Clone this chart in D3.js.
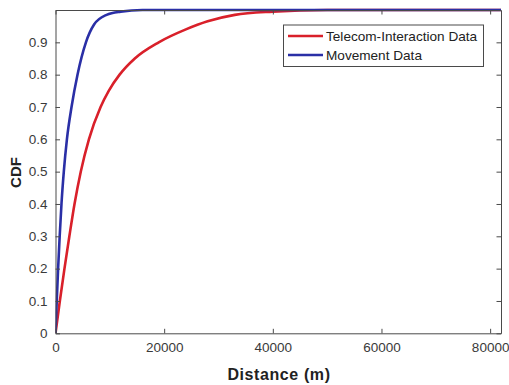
<!DOCTYPE html>
<html>
<head>
<meta charset="utf-8">
<script src="https://cdn.jsdelivr.net/npm/d3@7"></script>
<style>
  html, body { margin: 0; padding: 0; background: #fff; }
  svg { display: block; font-family: "Liberation Sans", Arial, Helvetica, sans-serif; }
</style>
</head>
<body>
<svg id="chart" width="509" height="385"></svg>
<script>
// Empirical CDFs of distance (m)
const telecomDist = [0, 800, 1650, 2550, 3500, 4650, 6150, 8300, 9800, 11800, 14600, 19000, 24000, 28000, 33000, 40000, 50000, 82000];
const telecomCdf  = [0, 0.10, 0.20, 0.30, 0.40, 0.50, 0.60, 0.70, 0.75, 0.80, 0.85, 0.90, 0.94, 0.965, 0.985, 0.995, 1.0, 1.0];
const movementDist = [0, 230, 480, 770, 1100, 1530, 2100, 2950, 4050, 5600, 7100, 9400, 12000, 16000, 82000];
const movementCdf  = [0, 0.10, 0.20, 0.30, 0.40, 0.50, 0.60, 0.70, 0.80, 0.90, 0.955, 0.985, 0.995, 1.0, 1.0];

const xTicks = [0, 20000, 40000, 60000, 80000];
const yTicks = [0, 0.1, 0.2, 0.3, 0.4, 0.5, 0.6, 0.7, 0.8, 0.9];

const seriesNames = ["Telecom-Interaction Data", "Movement Data"];
const seriesColors = ["#d9202a", "#2a2fa6"];

const plotLeft = 55.5, plotRight = 501, plotTop = 10, plotBottom = 333.3;
const svg = d3.select("#chart");

const x = d3.scaleLinear().domain([0, 82000]).range([plotLeft, plotRight]);
const y = d3.scaleLinear().domain([0, 1]).range([plotBottom, plotTop]);

const axisColor = "#4a4a4a";
const labelColor = "#3a3a3a";
const tickLen = 4.5;

// curves
const line = d3.line().curve(d3.curveMonotoneX).x(d => x(d[0])).y(d => y(d[1]));
const series = [
  d3.zip(telecomDist, telecomCdf),
  d3.zip(movementDist, movementCdf)
];
const g = svg.append("g");
g.append("clipPath").attr("id", "clip").append("rect")
  .attr("x", plotLeft).attr("y", plotTop - 2)
  .attr("width", plotRight - plotLeft).attr("height", plotBottom - plotTop + 2);
series.forEach((s, i) => {
  g.append("path").datum(s)
    .attr("d", line)
    .attr("fill", "none")
    .attr("stroke", seriesColors[i])
    .attr("stroke-width", 2.6)
    .attr("stroke-linejoin", "round")
    .attr("clip-path", "url(#clip)");
});

// axes (ticks point inward, mirrored on top and right)
const xAxisB = d3.axisBottom(x).tickValues(xTicks).tickSizeInner(-tickLen).tickSizeOuter(0).tickPadding(9).tickFormat(d3.format("d"));
const xAxisT = d3.axisTop(x).tickValues(xTicks).tickSizeInner(-tickLen).tickSizeOuter(0).tickFormat("");
const yAxisL = d3.axisLeft(y).tickValues(yTicks).tickSizeInner(-tickLen).tickSizeOuter(0).tickPadding(8).tickFormat(d => d === 0 ? "0" : d3.format(".1f")(d));
const yAxisR = d3.axisRight(y).tickValues(yTicks).tickSizeInner(-tickLen).tickSizeOuter(0).tickFormat("");

function styleAxis(sel) {
  sel.select(".domain").attr("stroke", axisColor).attr("stroke-width", 1);
  sel.selectAll(".tick line").attr("stroke", axisColor).attr("stroke-width", 1);
  sel.selectAll(".tick text").attr("fill", labelColor).style("font-size", "13.5px")
    .style("font-family", "'Liberation Sans', Arial, sans-serif");
}
svg.append("g").attr("transform", `translate(0,${plotBottom})`).call(xAxisB).call(styleAxis);
svg.append("g").attr("transform", `translate(0,${plotTop})`).call(xAxisT).call(styleAxis);
svg.append("g").attr("transform", `translate(${plotLeft},0)`).call(yAxisL).call(styleAxis);
svg.append("g").attr("transform", `translate(${plotRight},0)`).call(yAxisR).call(styleAxis);

// axis titles
svg.append("text").attr("x", 279).attr("y", 380)
  .attr("text-anchor", "middle").attr("fill", "#222")
  .style("font-weight", "bold").style("font-size", "16px").style("letter-spacing", "0.6px")
  .text("Distance (m)");
svg.append("text").attr("transform", `translate(20.5,172.5) rotate(-90)`)
  .attr("text-anchor", "middle").attr("fill", "#222")
  .style("font-weight", "bold").style("font-size", "15px")
  .text("CDF");

// legend
const lg = svg.append("g");
lg.append("rect").attr("x", 283.5).attr("y", 25).attr("width", 200).attr("height", 41.5)
  .attr("fill", "#fff").attr("stroke", axisColor).attr("stroke-width", 1);
seriesNames.forEach((name, i) => {
  const yy = 36 + i * 19;
  lg.append("line").attr("x1", 288).attr("x2", 323).attr("y1", yy).attr("y2", yy)
    .attr("stroke", seriesColors[i]).attr("stroke-width", 2.6);
  lg.append("text").attr("x", 326).attr("y", yy + 4.8)
    .attr("fill", "#222").style("font-size", "13.6px")
    .text(name);
});
</script>
</body>
</html>
